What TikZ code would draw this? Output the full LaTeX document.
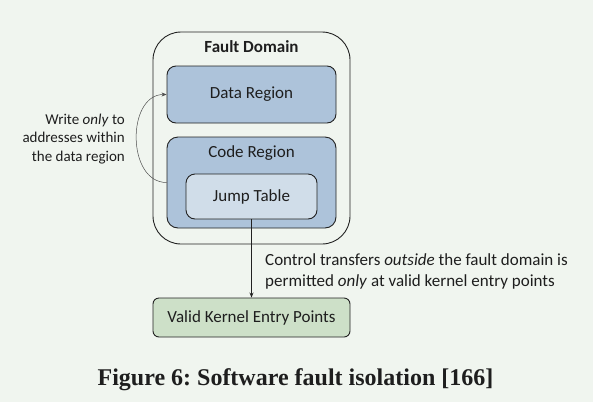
\documentclass[tikz,border=0pt]{standalone}
\usepackage{fontspec}
\setmainfont{Carlito}
\newfontfamily\capfont{Liberation Serif}
\usetikzlibrary{arrows.meta}
\definecolor{bgc}{RGB}{240,245,239}
\definecolor{regc}{RGB}{173,195,218}
\definecolor{jumpc}{RGB}{208,221,233}
\definecolor{kernc}{RGB}{205,224,200}
\definecolor{linec}{RGB}{34,34,34}
\definecolor{txtc}{RGB}{30,30,30}
\frenchspacing
\tikzset{
  box/.style={draw=linec, line width=0.9pt, inner sep=0pt, text=txtc,
    font=\fontsize{17}{20.7}\selectfont},
  lbl/.style={inner sep=0pt, text=txtc, font=\fontsize{17}{20.7}\selectfont},
}
\begin{document}
\begin{tikzpicture}[x=1pt,y=-1pt]
\useasboundingbox[fill=bgc] (0,0) rectangle (593,402);
\node[box, rounded corners=28pt, minimum width=197pt, minimum height=212pt] (fault) at (251.5,138) {};
\node[lbl, font=\fontsize{17}{20}\selectfont\bfseries] (faultlbl) at (251.5,47) {Fault Domain};
\node[box, fill=regc, rounded corners=9pt, minimum width=169pt, minimum height=57pt] (data) at (251.5,94.5) {Data Region};
\node[box, fill=regc, rounded corners=11pt, minimum width=169pt, minimum height=91pt] (code) at (251.5,182.5) {};
\node[lbl] (codelbl) at (251.5,153) {Code Region};
\node[box, fill=jumpc, rounded corners=9pt, minimum width=131pt, minimum height=45pt] (jump) at (251.5,196.5) {Jump Table};
\node[box, fill=kernc, rounded corners=6pt, minimum width=197pt, minimum height=39pt] (kern) at (251.5,317.5) {Valid Kernel Entry Points};
\node[lbl, anchor=east, align=right, font=\fontsize{15}{18.3}\selectfont] (wlbl) at (125,139) {Write \emph{only} to\\addresses within\\the data region};
\node[lbl, anchor=west, align=left] (clbl) at (265,271.5) {Control transfers \emph{outside} the fault domain is\\permitted \emph{only} at valid kernel entry points};
\draw[draw=linec!80, line width=0.5pt, -{Stealth[length=5pt,width=4pt]}] (code.west) .. controls +(-40,0) and +(-40,0) .. (data.west);
\draw[draw=linec, line width=0.8pt, -{Stealth[length=5pt,width=4pt]}] (jump.south) -- (kern.north);
\node[inner sep=0pt, anchor=base, text=txtc, font=\capfont\fontsize{24}{28}\selectfont\bfseries] (cap) at (295.5,385) {Figure 6: Software fault isolation [166]};
\end{tikzpicture}
\end{document}
